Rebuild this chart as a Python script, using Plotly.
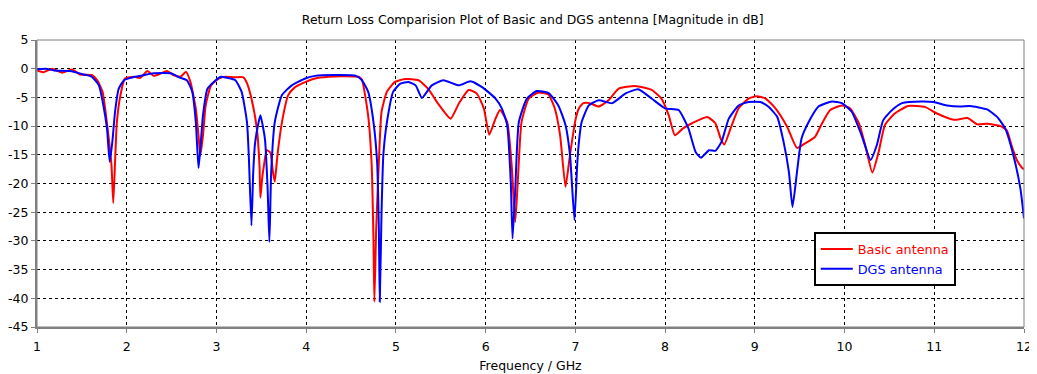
import plotly.graph_objects as go

# ---------------- data ----------------
basic_freq = [1.00, 1.07, 1.17, 1.28, 1.39, 1.48, 1.61, 1.67, 1.73, 1.76, 1.80, 1.83, 1.85, 1.87, 1.89,
              1.93, 1.98, 2.08, 2.15, 2.23, 2.30, 2.37, 2.45, 2.52, 2.60, 2.66, 2.71, 2.77, 2.80, 2.82,
              2.85, 2.88, 2.94, 3.03, 3.10, 3.20, 3.30, 3.34, 3.39, 3.45, 3.48, 3.49, 3.51, 3.53, 3.56,
              3.60, 3.63, 3.65, 3.68, 3.73, 3.80, 3.87, 3.95, 4.10, 4.25, 4.40, 4.58, 4.62, 4.69, 4.73,
              4.75, 4.76, 4.78, 4.81, 4.84, 4.90, 4.99, 5.10, 5.25, 5.36, 5.47, 5.61, 5.70, 5.81, 5.90,
              5.98, 6.04, 6.11, 6.16, 6.24, 6.29, 6.33, 6.36, 6.40, 6.48, 6.59, 6.70, 6.77, 6.83, 6.89,
              6.94, 7.00, 7.04, 7.09, 7.16, 7.26, 7.37, 7.48, 7.67, 7.85, 7.96, 8.04, 8.11, 8.20, 8.30,
              8.47, 8.56, 8.62, 8.66, 8.73, 8.82, 8.93, 9.02, 9.12, 9.23, 9.36, 9.47, 9.56, 9.67, 9.74,
              9.84, 9.97, 10.06, 10.16, 10.23, 10.31, 10.38, 10.45, 10.56, 10.71, 10.90, 11.03, 11.22,
              11.37, 11.48, 11.59, 11.74, 11.81, 11.86, 11.92, 11.98, 12.00]
basic_db = [-0.3, -0.6, 0.0, -0.7, -0.15, -1.0, -1.1, -2.0, -4.0, -7.0, -12.2, -16.8, -23.4, -16.2, -9.3,
            -4.6, -1.7, -1.4, -1.6, -0.4, -1.25, -0.9, -0.4, -1.1, -1.4, -0.55, -2.3, -7.0, -11.6, -15.1,
            -11.6, -6.4, -2.9, -1.7, -1.4, -1.5, -1.5, -2.5, -5.2, -10.4, -17.0, -22.5, -19.0, -16.8, -14.2,
            -14.6, -18.0, -19.7, -15.0, -9.3, -4.6, -3.3, -2.6, -1.7, -1.4, -1.3, -1.4, -1.9, -8.1, -16.8,
            -30.0, -40.6, -28.0, -16.2, -7.5, -4.0, -2.3, -1.8, -2.0, -3.5, -6.1, -8.7, -6.1, -3.7, -4.3,
            -6.9, -11.5, -8.7, -7.2, -9.3, -16.8, -26.7, -19.1, -9.3, -5.2, -4.15, -4.5, -6.9, -11.6, -20.6,
            -15.0, -9.0, -6.9, -6.0, -6.0, -6.6, -5.5, -3.5, -3.0, -3.7, -5.2, -8.1, -11.6, -10.4, -9.5,
            -8.4, -9.5, -12.2, -13.2, -10.4, -6.9, -5.2, -4.8, -5.2, -6.9, -10.1, -13.8, -13.0, -11.9, -9.8,
            -7.2, -6.4, -6.9, -9.5, -13.3, -18.1, -14.5, -9.8, -7.8, -6.5, -6.7, -7.8, -8.9,
            -8.6, -9.7, -9.6, -10.0, -10.8, -13.3, -15.9, -17.3, -17.5]

dgs_freq = [1.00, 1.10, 1.19, 1.37, 1.52, 1.61, 1.69, 1.74, 1.78, 1.81, 1.84, 1.87, 1.91, 1.97, 2.04,
            2.15, 2.30, 2.49, 2.60, 2.67, 2.73, 2.77, 2.80, 2.82, 2.85, 2.90, 2.97, 3.05, 3.12, 3.21,
            3.28, 3.34, 3.36, 3.39, 3.41, 3.43, 3.47, 3.49, 3.54, 3.57, 3.59, 3.61, 3.65, 3.73, 3.84,
            3.99, 4.10, 4.30, 4.55, 4.62, 4.69, 4.75, 4.79, 4.81, 4.82, 4.84, 4.86, 4.90, 4.97, 5.05,
            5.14, 5.22, 5.29, 5.40, 5.53, 5.70, 5.83, 5.96, 6.11, 6.18, 6.24, 6.28, 6.30, 6.33, 6.37,
            6.46, 6.57, 6.70, 6.81, 6.89, 6.94, 6.99, 7.02, 7.04, 7.07, 7.15, 7.26, 7.41, 7.56, 7.70,
            7.85, 8.00, 8.15, 8.26, 8.34, 8.40, 8.49, 8.56, 8.63, 8.71, 8.82, 8.93, 9.06, 9.15, 9.25,
            9.32, 9.38, 9.42, 9.47, 9.52, 9.60, 9.71, 9.86, 9.97, 10.08, 10.19, 10.29, 10.36, 10.43,
            10.53, 10.64, 10.86, 10.99, 11.14, 11.29, 11.40, 11.59, 11.70, 11.79, 11.88, 11.96, 12.00]
dgs_db = [-0.1, 0.0, -0.3, -0.4, -1.0, -1.4, -2.9, -6.4, -10.4, -16.2, -12.7, -7.5, -3.5, -2.0, -1.6,
          -1.25, -0.8, -0.8, -1.6, -2.0, -4.0, -9.3, -17.3, -14.0, -8.1, -3.5, -2.3, -1.4, -1.6, -2.0,
          -4.0, -9.3, -15.0, -27.3, -18.0, -13.0, -9.3, -8.1, -12.2, -20.8, -30.2, -18.0, -9.3, -4.6, -2.9,
          -1.7, -1.25, -1.1, -1.2, -2.0, -4.0, -9.3, -16.2, -28.0, -40.6, -25.0, -15.0, -9.3, -4.0, -2.6,
          -2.3, -2.9, -5.1, -2.9, -2.0, -2.9, -2.2, -3.2, -5.2, -6.9, -9.8, -19.7, -29.6, -21.0, -9.3,
          -5.2, -3.9, -4.2, -6.4, -9.8, -15.0, -26.4, -16.8, -12.7, -9.3, -6.4, -5.5, -6.0, -4.3, -3.6,
          -5.2, -6.9, -7.2, -10.4, -14.5, -15.5, -14.2, -14.3, -12.7, -8.7, -6.4, -5.8, -5.8, -6.6, -8.4,
          -12.7, -18.0, -24.1, -18.0, -12.2, -9.3, -6.6, -5.7, -6.0, -7.5, -11.6, -15.9, -13.3, -9.0,
          -7.2, -6.0, -5.7, -5.8, -6.4, -6.6, -6.5, -7.1, -8.4, -10.4, -15.0, -20.9, -26.1]

x_ticks = [1, 2, 3, 4, 5, 6, 7, 8, 9, 10, 11, 12]
y_ticks = [5, 0, -5, -10, -15, -20, -25, -30, -35, -40, -45]

title_text = "Return Loss Comparision Plot of Basic and DGS antenna [Magnitude in dB]"
x_title = "Frequency / GHz"

FONT = "DejaVu Sans"

fig = go.Figure()
fig.add_trace(go.Scatter(x=basic_freq, y=basic_db, mode="lines",
                         name="<span style='color:#ff0000'>Basic antenna</span>",
                         line=dict(color="#ff0000", width=2, shape="spline", smoothing=0.5)))
fig.add_trace(go.Scatter(x=dgs_freq, y=dgs_db, mode="lines",
                         name="<span style='color:#0000ff'>DGS antenna</span>",
                         line=dict(color="#0000ff", width=2, shape="spline", smoothing=0.5)))

axis_common = dict(showgrid=True, gridcolor="#000000", gridwidth=1, griddash="3px,3px",
                   zeroline=False, showline=True, linecolor="#808080", linewidth=2,
                   ticks="outside", ticklen=4, tickcolor="#808080", automargin=False,
                   tickfont=dict(family=FONT, size=12.5, color="#000000"))

fig.update_xaxes(range=[1, 12], tickvals=x_ticks, ticktext=[str(v) for v in x_ticks],
                 ticklabelstandoff=3,
                 title=dict(text=x_title, font=dict(family=FONT, size=12.5, color="#000000"), standoff=8),
                 **axis_common)
fig.update_yaxes(range=[-45, 5], tickvals=y_ticks, ticktext=[str(v) for v in y_ticks], **axis_common)

fig.add_shape(type="rect", xref="paper", yref="paper", x0=0, y0=0, x1=1, y1=1,
              line=dict(color="#808080", width=1), layer="above")

# page body has an 8px margin, so the figure is offset by (8, 8)
fig.update_layout(
    width=1029, height=366,
    margin=dict(l=29, r=13, t=32, b=47),
    paper_bgcolor="white", plot_bgcolor="white",
    title=dict(text=title_text, x=0.510, xanchor="center", y=0.967, yanchor="middle",
               font=dict(family=FONT, size=12.4, color="#000000"), automargin=False),
    showlegend=True,
    legend=dict(x=0.787, y=0.33, xanchor="left", yanchor="top",
                bgcolor="white", bordercolor="#000000", borderwidth=2,
                font=dict(family=FONT, size=12.8), itemwidth=32, tracegroupgap=0),
    font=dict(family=FONT, size=12, color="#000000"),
)

fig.write_html("out.html")
